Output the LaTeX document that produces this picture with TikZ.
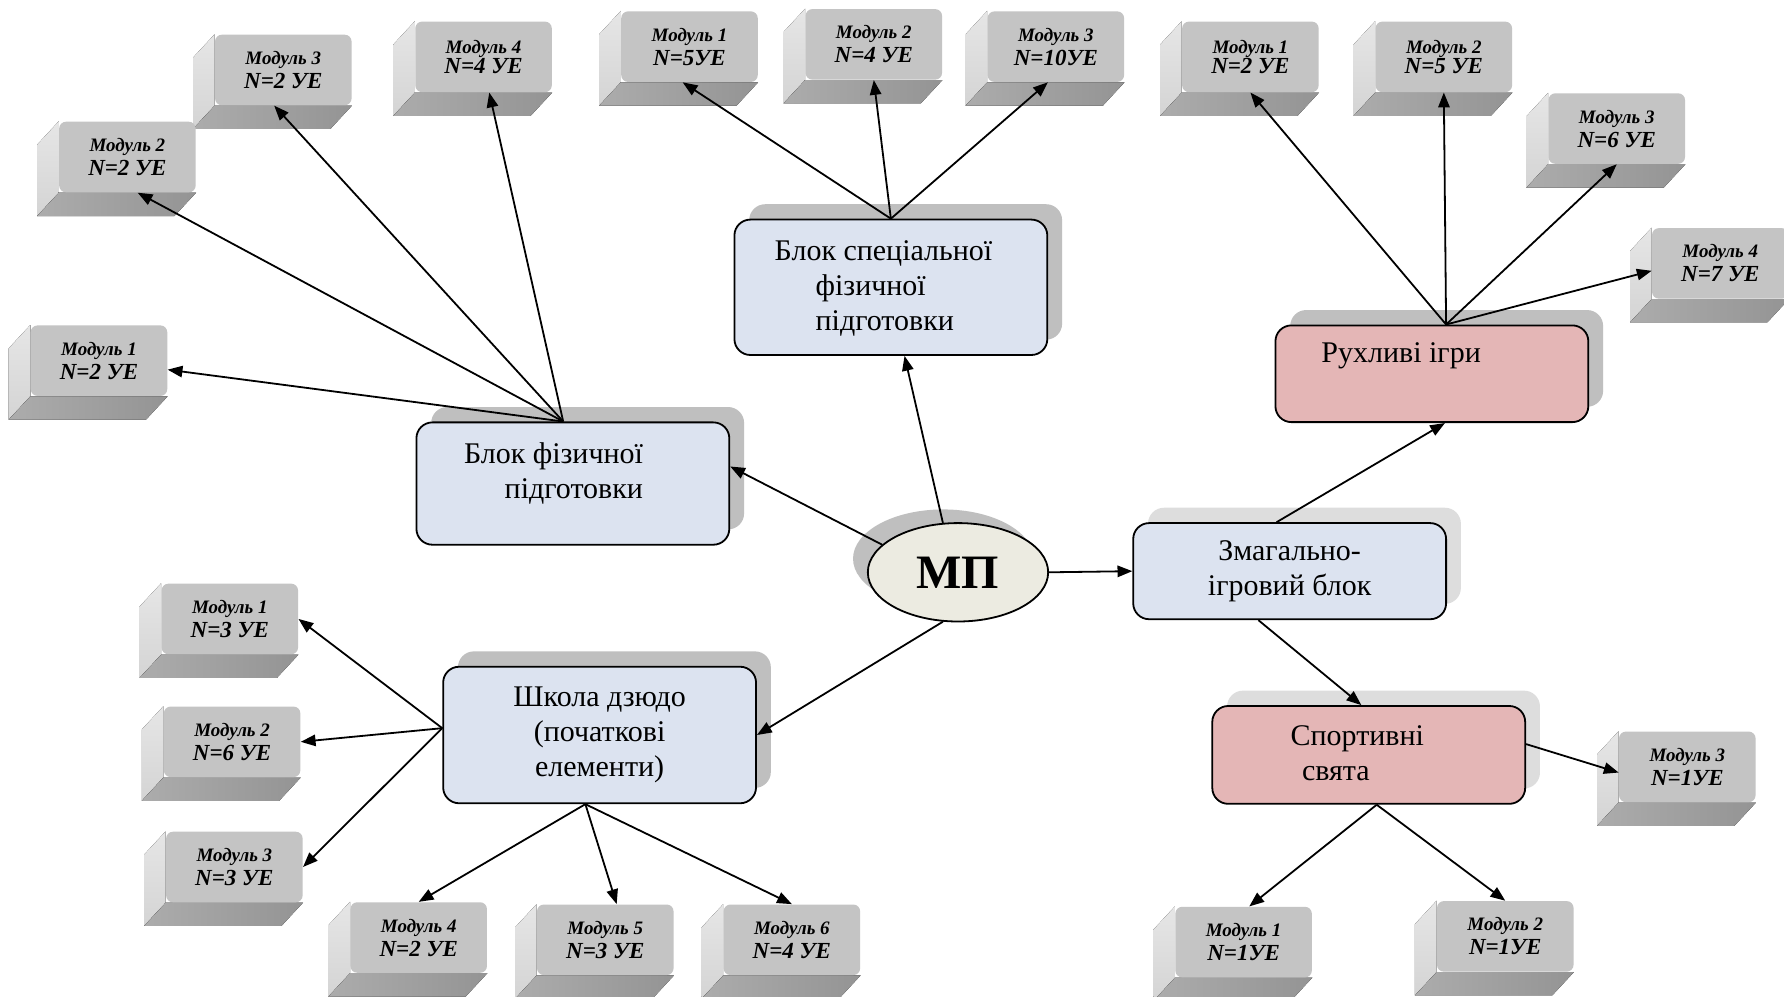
\documentclass[tikz,border=0pt]{standalone}
\usepackage{fontspec}
\setmainfont{Liberation Serif}
\usetikzlibrary{shapes.geometric, arrows.meta, shadows, backgrounds}

\definecolor{blokfill}{RGB}{220,227,240}
\definecolor{rozfill}{RGB}{228,182,182}
\definecolor{mpfill}{RGB}{236,235,225}
\definecolor{tin}{RGB}{191,191,191}
\definecolor{tinlight}{RGB}{221,221,221}
\definecolor{modfront}{RGB}{196,196,196}
\definecolor{modside}{RGB}{230,230,230}
\definecolor{modsidedark}{RGB}{212,212,212}
\definecolor{modbottom}{RGB}{172,172,172}
\definecolor{modbottomdark}{RGB}{148,148,148}

\begin{document}
\begin{tikzpicture}[
    arr/.style={-{Triangle[length=2.6mm, width=2mm]}, line width=0.9pt},
    blok/.style={rectangle, rounded corners=2.8mm, draw, line width=0.9pt, fill=blokfill,
        minimum width=5.5cm, inner sep=0pt, font=\fontsize{15}{17.5}\selectfont,
        general shadow={fill=#1, shadow xshift=2.6mm, shadow yshift=2.7mm}},
    blok/.default=tin,
    modul/.style={rectangle, rounded corners=1.2mm, fill=modfront, minimum width=2.4cm,
        minimum height=1.24cm, inner sep=0pt, align=center,
        font=\bfseries\itshape\fontsize{9.5}{12}\selectfont},
    bevelL/.style={top color=modside, bottom color=modsidedark},
    bevelB/.style={left color=modbottom, right color=modbottomdark},
]
\useasboundingbox (0,0) rectangle (31.36,-17.52);

% Centre
\node[ellipse, draw, line width=0.9pt, fill=mpfill, minimum width=3.17cm, minimum height=1.73cm,
      inner sep=0pt, font=\bfseries\fontsize{24}{28}\selectfont,
      general shadow={fill=tin, shadow xshift=-2.6mm, shadow yshift=2.4mm}] (mp) at (16.84,-10.06) {МП};

% Blocks
\node[blok, minimum height=2.15cm] (bf) at (10.07,-8.50)
  {\raisebox{0.5mm}[0pt][0pt]{\begin{tabular}{@{}r@{}}Блок фізичної\\підготовки\end{tabular}}\hspace*{6.8mm}};
\node[blok, minimum height=2.38cm] (bsf) at (15.66,-5.05)
  {\raisebox{-1.4mm}[0pt][0pt]{\begin{tabular}{@{}l@{}}Блок спеціальної\\\hspace*{7.2mm}фізичної\\\hspace*{7.2mm}підготовки\end{tabular}}\hspace*{2.6mm}};
\node[blok, minimum height=2.40cm, align=center] (sch) at (10.54,-12.92) {Школа дзюдо\\(початкові\\елементи)};
\node[blok=tinlight, minimum height=1.69cm, align=center] (zi) at (22.67,-10.04) {Змагально-\\ігровий блок};
\node[blok, fill=rozfill, minimum height=1.70cm] (ri) at (25.17,-6.57)
  {\raisebox{1.9mm}[0pt][0pt]{Рухливі ігри}\hspace*{10.8mm}};
\node[blok=tinlight, fill=rozfill, minimum height=1.72cm] (ss) at (24.06,-13.27)
  {\raisebox{-1.4mm}[0pt][0pt]{\begin{tabular}{@{}l@{}}Спортивні\\\hspace*{2mm}свята\end{tabular}}\hspace*{4mm}};

% Modules
\foreach \nm/\x/\y/\mk/\mv/\mg in {
    a1/1.74/-6.34/1/{N=2 УЕ}/0pt, a2/2.24/-2.76/2/{N=2 УЕ}/0pt,
    a3/4.98/-1.23/3/{N=2 УЕ}/0pt, a4/8.50/-1.00/4/{N=4 УЕ}/-2pt,
    b1/12.12/-0.82/1/{N=5УЕ}/0pt, b2/15.36/-0.78/2/{N=4 УЕ}/0pt, b3/18.56/-0.82/3/{N=10УЕ}/0pt,
    c1/21.98/-1.00/1/{N=2 УЕ}/-2pt, c2/25.38/-1.00/2/{N=5 УЕ}/-2pt,
    c3/28.42/-2.26/3/{N=6 УЕ}/0pt, c4/30.24/-4.63/4/{N=7 УЕ}/0pt,
    d1/4.04/-10.88/1/{N=3 УЕ}/0pt, d2/4.08/-13.04/2/{N=6 УЕ}/0pt, d3/4.12/-15.24/3/{N=3 УЕ}/0pt,
    d4/7.36/-16.48/4/{N=2 УЕ}/0pt, d5/10.64/-16.52/5/{N=3 УЕ}/0pt, d6/13.92/-16.52/6/{N=4 УЕ}/0pt,
    e1/21.86/-16.56/1/{N=1УЕ}/0pt, e2/26.46/-16.46/2/{N=1УЕ}/0pt, e3/29.66/-13.48/3/{N=1УЕ}/0pt}
  \node[modul] (\nm) at (\x,\y) {Модуль \mk\\[\mg]{\fontsize{11.5}{12}\selectfont \mv}};

\begin{scope}[on background layer]
\fill[white] (0,0) rectangle (31.36,-17.52);
\foreach \nm in {a1,a2,a3,a4,b1,b2,b3,c1,c2,c3,c4,d1,d2,d3,d4,d5,d6,e1,e2,e3} {
  \fill[bevelL] (\nm.north west) -- (\nm.south west) -- ++(-0.38,-0.41) -- ([shift={(-0.38,-0.41)}]\nm.north west) -- cycle;
  \fill[bevelB] (\nm.south west) -- (\nm.south east) -- ++(-0.38,-0.41) -- ([shift={(-0.38,-0.41)}]\nm.south west) -- cycle;
}
\end{scope}

% Centre links
\draw[arr] (mp.160) -- ([yshift=3mm]bf.east);
\draw[arr] (mp.107) -- ([xshift=2.4mm]bsf.south);
\draw[arr] (mp.east) -- (zi.west);
\draw[arr] (mp.253) -- (sch.east);
\draw[arr] ([xshift=-2.3mm]zi.north) -- ([xshift=2.3mm]ri.south);
\draw[arr] ([xshift=-5.5mm]zi.south) -- ([xshift=-1.3mm]ss.north);

% Fans to modules
\coordinate (bfo) at ([xshift=-1.7mm]bf.north);
\coordinate (rio) at ([xshift=2.5mm]ri.north);
\coordinate (schl) at ([yshift=1.2mm]sch.west);
\coordinate (schb) at ([xshift=-2.5mm]sch.south);
\coordinate (ssr) at ([yshift=1.9mm]ss.east);
\coordinate (ssb) at ([xshift=1.4mm]ss.south);

\draw[arr] (bfo) -- (a1);
\draw[arr] (bfo) -- ([xshift=1.8mm]a2.south);
\draw[arr] (bfo) -- ([xshift=-1.6mm]a3.south);
\draw[arr] (bfo) -- ([xshift=1mm]a4.south);

\draw[arr] (bsf.north) -- ([xshift=-1.2mm]b1.south);
\draw[arr] (bsf.north) -- (b2.south);
\draw[arr] (bsf.north) -- ([xshift=-1.4mm]b3.south);

\draw[arr] (rio) -- (c1.south);
\draw[arr] (rio) -- (c2.south);
\draw[arr] (rio) -- (c3.south);
\draw[arr] (rio) -- ([yshift=-1.3mm]c4.west);

\draw[arr] (schl) -- (d1.east);
\draw[arr] (schl) -- (d2.east);
\draw[arr] (schl) -- (d3.east);
\draw[arr] (schb) -- (d4.north);
\draw[arr] (schb) -- ([xshift=2mm]d5.north);
\draw[arr] (schb) -- (d6.north);

\draw[arr] (ssr) -- ([yshift=-1mm]e3.west);
\draw[arr] (ssb) -- ([xshift=1mm]e1.north);
\draw[arr] (ssb) -- (e2.north);

\end{tikzpicture}
\end{document}
